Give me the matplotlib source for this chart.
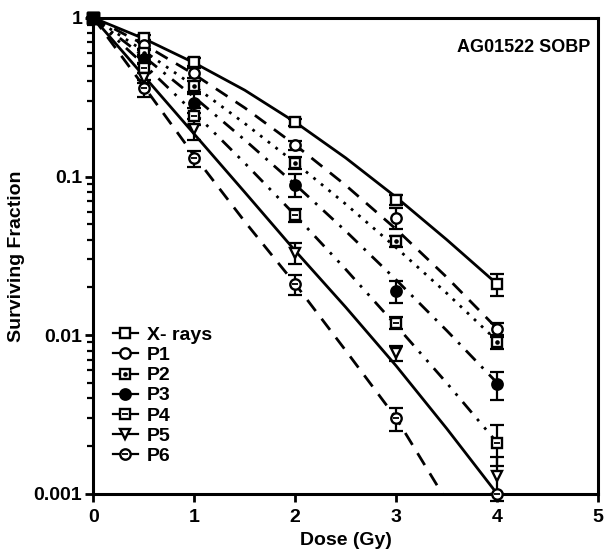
import matplotlib
matplotlib.use('Agg')
import matplotlib.pyplot as plt
from matplotlib.lines import Line2D
from matplotlib.ticker import FixedLocator, FixedFormatter, LogLocator, NullFormatter

plt.rcParams['font.family'] = ['Liberation Sans', 'DejaVu Sans']
plt.rcParams['font.weight'] = 'bold'

# measured points
dose = [0, 0.5, 1, 2, 3, 4]
names = ['X- rays', 'P1', 'P2', 'P3', 'P4', 'P5', 'P6']
sf = {
    'X- rays': [1, 0.75, 0.53, 0.22, 0.071, 0.021],
    'P1': [1, 0.67, 0.45, 0.158, 0.055, 0.011],
    'P2': [1, 0.60, 0.37, 0.122, 0.039, 0.009],
    'P3': [1, 0.55, 0.29, 0.089, 0.019, 0.0049],
    'P4': [1, 0.48, 0.24, 0.057, 0.012, 0.0021],
    'P5': [1, 0.42, 0.20, 0.033, 0.0077, 0.0013],
    'P6': [1, 0.36, 0.13, 0.021, 0.003, 0.001],
}
err = {
    'X- rays': [0, 0.03, 0.03, 0.012, 0.005, 0.0033],
    'P1': [0, 0.03, 0.03, 0.01, 0.008, 0.001],
    'P2': [0, 0.03, 0.03, 0.01, 0.003, 0.0008],
    'P3': [0, 0.03, 0.04, 0.015, 0.003, 0.001],
    'P4': [0, 0.03, 0.03, 0.005, 0.001, 0.0006],
    'P5': [0, 0.03, 0.03, 0.005, 0.0008, 0.0004],
    'P6': [0, 0.045, 0.015, 0.003, 0.0005, 0],
}

# fitted curves
dose_fit = [0, 0.5, 1, 1.5, 2, 2.5, 3, 3.5, 4]
fit = {
    'X- rays': [1, 0.74, 0.52, 0.35, 0.22, 0.131, 0.074, 0.040, 0.021],
    'P1': [1, 0.68, 0.44, 0.271, 0.158, 0.088, 0.0465, 0.0232, 0.011],
    'P2': [1, 0.618, 0.371, 0.216, 0.122, 0.067, 0.0356, 0.0184, 0.0092],
    'P3': [1, 0.57, 0.316, 0.170, 0.089, 0.0453, 0.0223, 0.0107, 0.005],
    'P4': [1, 0.509, 0.252, 0.1215, 0.057, 0.026, 0.0115, 0.005, 0.0021],
    'P5': [1, 0.43, 0.185, 0.0796, 0.034, 0.015, 0.0064, 0.00258, 0.001],
    'P6': [1, 0.37, 0.135, 0.052, 0.021, 0.008, 0.003, 0.0009, 0.0003],
}

line_styles = {
    'X- rays': '-',
    'P1': (0, (5, 3.5)),
    'P2': (0, (1, 2.5)),
    'P3': (0, (5, 3, 1, 3)),
    'P4': (0, (5, 3, 1, 3, 1, 3)),
    'P5': '-',
    'P6': (0, (5, 3.5)),
}
# (main marker, face, inner marker)
markers = {
    'X- rays': ('s', 'white', None),
    'P1': ('o', 'white', None),
    'P2': ('s', 'white', '.'),
    'P3': ('o', 'black', None),
    'P4': ('s', 'white', '_'),
    'P5': ('v', 'white', None),
    'P6': ('o', 'white', '_'),
}


def main():
    fig = plt.figure(figsize=(6.06, 5.58), dpi=100)
    ax = fig.add_axes([0.154, 0.115, 0.833, 0.853])
    ax.set_yscale('log')
    ax.set_xlim(0, 5)
    ax.set_ylim(0.001, 1)

    handles = []
    for name in names:
        ax.plot(dose_fit, fit[name], color='black', lw=2, ls=line_styles[name], zorder=2)
        m, face, inner = markers[name]
        ax.errorbar(dose, sf[name], yerr=err[name], fmt='none', ecolor='black',
                    elinewidth=1.6, capsize=5, capthick=1.6, zorder=3, clip_on=False)
        ax.plot(dose[1:], sf[name][1:], ls='none', marker=m, ms=7.5, mfc=face, mec='black',
                mew=1.7, zorder=4, clip_on=False)
        # the points at dose 0 overlap into a solid blob
        ax.plot(dose[:1], sf[name][:1], ls='none', marker=m, ms=8, color='black',
                zorder=4, clip_on=False)
        h = [Line2D([], [], color='black', lw=1.6, marker=m, ms=7.5, mfc=face,
                    mec='black', mew=1.7)]
        if inner:
            ax.plot(dose[1:], sf[name][1:], ls='none', marker=inner, ms=4,
                    color='black', mew=1.3, zorder=5, clip_on=False)
            h.append(Line2D([], [], ls='none', marker=inner, ms=4, color='black', mew=1.3))
        handles.append(tuple(h))

    ax.legend(handles, names, loc='lower left', bbox_to_anchor=(0.0, 0.02),
              frameon=False, handlelength=1.3, handletextpad=0.45,
              labelspacing=0.13, fontsize=14, borderaxespad=0.6)

    ax.text(0.985, 0.955, 'AG01522 SOBP', transform=ax.transAxes, ha='right',
            va='top', fontsize=13, fontweight='bold')

    ax.xaxis.set_major_locator(FixedLocator([0, 1, 2, 3, 4, 5]))
    ax.yaxis.set_major_locator(FixedLocator([0.001, 0.01, 0.1, 1]))
    ax.yaxis.set_major_formatter(FixedFormatter(['0.001', '0.01', '0.1', '1']))
    ax.yaxis.set_minor_locator(LogLocator(base=10, subs=range(2, 10)))
    ax.yaxis.set_minor_formatter(NullFormatter())
    ax.tick_params(axis='both', which='major', direction='out', width=2,
                   length=6, labelsize=14, pad=2)
    ax.tick_params(axis='x', which='major', pad=5)
    ax.tick_params(axis='y', which='minor', direction='out', width=1.6, length=4)
    for s in ax.spines.values():
        s.set_linewidth(2.2)

    ax.set_xlabel('Dose (Gy)', fontsize=14, fontweight='bold', labelpad=4)
    ax.set_ylabel('Surviving Fraction', fontsize=14, fontweight='bold', labelpad=6)

    fig.savefig('out.png', dpi=100)


if __name__ == '__main__':
    main()
